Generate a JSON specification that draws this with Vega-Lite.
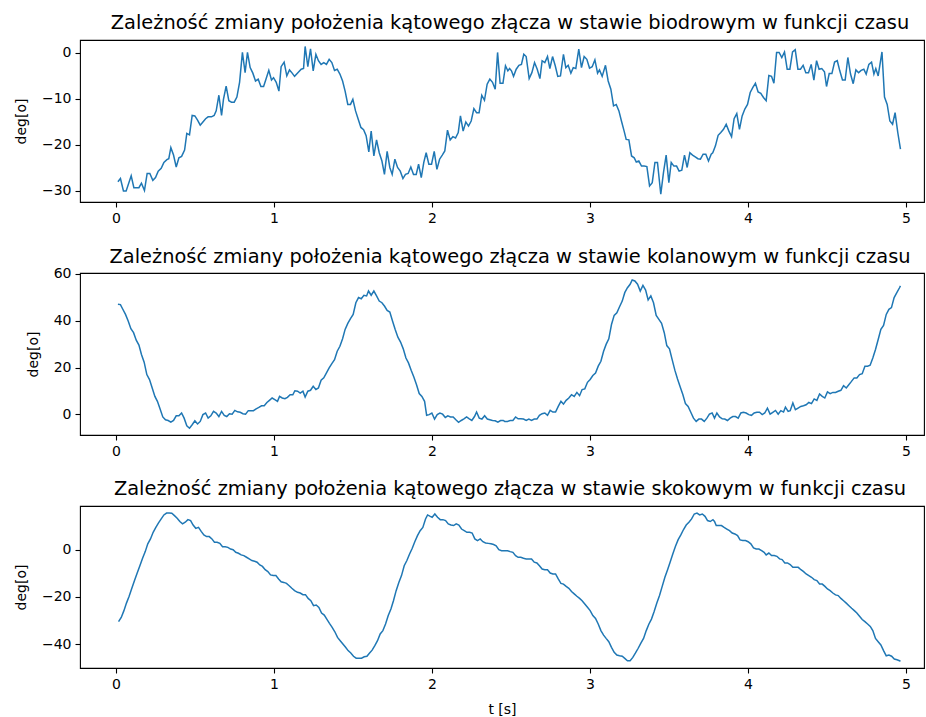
{
  "$schema": "https://vega.github.io/schema/vega-lite/v6.json",
  "background": "white",
  "padding": {"left": 13, "top": 12, "right": 1, "bottom": 5},
  "bounds": "flush",
  "spacing": 71,
  "datasets": {
    "hip": [
      {"t":0.012,"deg":-28.0},{"t":0.028,"deg":-27.3},{"t":0.047,"deg":-30.0},{"t":0.064,"deg":-30.0},{"t":0.096,"deg":-26.7},{"t":0.113,"deg":-29.3},{"t":0.145,"deg":-29.3},{"t":0.161,"deg":-28.3},{"t":0.180,"deg":-29.9},{"t":0.197,"deg":-26.2},{"t":0.214,"deg":-26.2},{"t":0.233,"deg":-27.7},{"t":0.250,"deg":-27.1},{"t":0.267,"deg":-25.7},{"t":0.286,"deg":-25.1},{"t":0.303,"deg":-23.8},{"t":0.322,"deg":-23.2},{"t":0.334,"deg":-23.0},{"t":0.347,"deg":-20.6},{"t":0.364,"deg":-22.2},{"t":0.381,"deg":-24.8},{"t":0.398,"deg":-22.8},{"t":0.415,"deg":-22.5},{"t":0.434,"deg":-21.1},{"t":0.448,"deg":-17.5},{"t":0.465,"deg":-17.8},{"t":0.482,"deg":-13.6},{"t":0.499,"deg":-13.7},{"t":0.516,"deg":-14.6},{"t":0.533,"deg":-15.7},{"t":0.550,"deg":-15.0},{"t":0.567,"deg":-14.3},{"t":0.583,"deg":-13.9},{"t":0.604,"deg":-13.9},{"t":0.621,"deg":-13.6},{"t":0.634,"deg":-12.6},{"t":0.651,"deg":-9.2},{"t":0.668,"deg":-13.6},{"t":0.680,"deg":-10.1},{"t":0.697,"deg":-7.2},{"t":0.714,"deg":-10.4},{"t":0.731,"deg":-10.7},{"t":0.748,"deg":-10.7},{"t":0.765,"deg":-9.6},{"t":0.782,"deg":-6.4},{"t":0.800,"deg":0.1},{"t":0.817,"deg":-4.3},{"t":0.832,"deg":0.1},{"t":0.849,"deg":-3.2},{"t":0.866,"deg":-4.4},{"t":0.883,"deg":-6.1},{"t":0.900,"deg":-5.7},{"t":0.917,"deg":-7.3},{"t":0.934,"deg":-7.3},{"t":0.950,"deg":-5.6},{"t":0.967,"deg":-3.8},{"t":0.984,"deg":-5.9},{"t":0.997,"deg":-5.4},{"t":1.014,"deg":-6.4},{"t":1.031,"deg":-8.3},{"t":1.045,"deg":-3.0},{"t":1.064,"deg":-2.0},{"t":1.081,"deg":-5.0},{"t":1.098,"deg":-3.7},{"t":1.115,"deg":-4.4},{"t":1.130,"deg":-5.1},
      {"t":1.151,"deg":-4.3},{"t":1.172,"deg":-3.55},{"t":1.187,"deg":-3.4},{"t":1.197,"deg":1.4},{"t":1.214,"deg":-3.0},{"t":1.231,"deg":0.9},{"t":1.248,"deg":-3.9},{"t":1.265,"deg":-0.3},{"t":1.281,"deg":-1.7},{"t":1.298,"deg":-2.5},{"t":1.315,"deg":-2.1},{"t":1.332,"deg":-2.5},{"t":1.349,"deg":-1.4},{"t":1.366,"deg":-2.1},{"t":1.383,"deg":-3.8},{"t":1.400,"deg":-3.55},{"t":1.417,"deg":-4.6},{"t":1.434,"deg":-6.1},{"t":1.450,"deg":-8.3},{"t":1.467,"deg":-11.2},{"t":1.484,"deg":-11.2},{"t":1.499,"deg":-10.1},{"t":1.516,"deg":-12.6},{"t":1.533,"deg":-14.4},{"t":1.550,"deg":-16.2},{"t":1.567,"deg":-16.7},{"t":1.583,"deg":-18.0},{"t":1.600,"deg":-21.5},{"t":1.615,"deg":-17.0},{"t":1.632,"deg":-22.4},{"t":1.649,"deg":-18.9},{"t":1.666,"deg":-21.7},{"t":1.683,"deg":-23.5},{"t":1.699,"deg":-26.4},{"t":1.716,"deg":-21.4},{"t":1.733,"deg":-24.9},{"t":1.748,"deg":-26.4},{"t":1.765,"deg":-23.1},{"t":1.782,"deg":-24.9},{"t":1.799,"deg":-25.7},{"t":1.816,"deg":-27.3},{"t":1.832,"deg":-26.4},{"t":1.849,"deg":-26.2},{"t":1.866,"deg":-24.8},{"t":1.883,"deg":-26.4},{"t":1.900,"deg":-26.4},{"t":1.915,"deg":-24.2},{"t":1.932,"deg":-27.1},{"t":1.948,"deg":-23.8},{"t":1.963,"deg":-21.7},{"t":1.980,"deg":-24.2},{"t":1.997,"deg":-24.2},{"t":2.014,"deg":-21.4},{"t":2.031,"deg":-25.3},{"t":2.048,"deg":-23.1},{"t":2.065,"deg":-22.2},{"t":2.081,"deg":-21.3},{"t":2.098,"deg":-16.8},{"t":2.115,"deg":-18.9},{"t":2.132,"deg":-18.2},{"t":2.149,"deg":-18.5},{"t":2.166,"deg":-17.3},{"t":2.180,"deg":-13.7},{"t":2.197,"deg":-17.0},{"t":2.214,"deg":-15.0},{"t":2.231,"deg":-15.9},{"t":2.248,"deg":-14.8},{"t":2.265,"deg":-12.1},{"t":2.282,"deg":-13.0},{"t":2.298,"deg":-13.0},{"t":2.315,"deg":-9.2},{"t":2.332,"deg":-10.3},{"t":2.349,"deg":-6.8},{"t":2.366,"deg":-5.7},{"t":2.383,"deg":-6.4},{"t":2.400,"deg":-7.9},{"t":2.415,"deg":0.1},{"t":2.431,"deg":-6.6},{"t":2.449,"deg":-6.6},
      {"t":2.465,"deg":-2.8},{"t":2.480,"deg":-3.9},{"t":2.491,"deg":-3.4},{"t":2.503,"deg":-3.9},{"t":2.516,"deg":-5.1},{"t":2.533,"deg":-3.55},{"t":2.550,"deg":-2.7},{"t":2.566,"deg":-2.5},{"t":2.581,"deg":-0.3},{"t":2.596,"deg":-0.8},{"t":2.615,"deg":-5.6},{"t":2.632,"deg":-4.3},{"t":2.649,"deg":-2.1},{"t":2.666,"deg":-3.55},{"t":2.683,"deg":-5.6},{"t":2.697,"deg":-1.7},{"t":2.714,"deg":-2.1},{"t":2.731,"deg":-0.8},{"t":2.746,"deg":-3.4},{"t":2.763,"deg":-0.8},{"t":2.780,"deg":-2.8},{"t":2.796,"deg":-5.1},{"t":2.813,"deg":-5.0},{"t":2.832,"deg":-0.3},{"t":2.847,"deg":-3.2},{"t":2.862,"deg":-2.7},{"t":2.879,"deg":-4.4},{"t":2.894,"deg":-3.2},{"t":2.910,"deg":-3.4},{"t":2.929,"deg":0.8},{"t":2.946,"deg":-3.2},{"t":2.963,"deg":-0.8},{"t":2.980,"deg":-1.4},{"t":2.997,"deg":-3.3},{"t":3.014,"deg":-3.0},{"t":3.031,"deg":-1.5},{"t":3.048,"deg":-4.4},{"t":3.060,"deg":-3.7},{"t":3.077,"deg":-5.1},{"t":3.098,"deg":-2.7},{"t":3.115,"deg":-6.1},{"t":3.132,"deg":-7.9},{"t":3.149,"deg":-11.5},{"t":3.166,"deg":-11.2},{"t":3.183,"deg":-12.6},{"t":3.199,"deg":-14.8},{"t":3.216,"deg":-17.0},{"t":3.229,"deg":-18.8},{"t":3.246,"deg":-18.9},{"t":3.263,"deg":-22.4},{"t":3.280,"deg":-22.8},{"t":3.293,"deg":-23.7},{"t":3.309,"deg":-23.5},{"t":3.326,"deg":-24.6},{"t":3.343,"deg":-24.6},{"t":3.360,"deg":-24.7},{"t":3.377,"deg":-28.9},{"t":3.394,"deg":-28.2},{"t":3.411,"deg":-23.8},{"t":3.427,"deg":-23.8},{"t":3.448,"deg":-30.7},{"t":3.465,"deg":-26.0},{"t":3.482,"deg":-22.2},{"t":3.499,"deg":-28.2},{"t":3.514,"deg":-23.8},{"t":3.531,"deg":-24.6},{"t":3.548,"deg":-24.6},{"t":3.564,"deg":-25.7},{"t":3.581,"deg":-25.5},{"t":3.598,"deg":-22.2},{"t":3.615,"deg":-24.9},{"t":3.632,"deg":-21.7},{"t":3.649,"deg":-22.2},{"t":3.666,"deg":-22.6},{"t":3.683,"deg":-23.0},{"t":3.699,"deg":-23.1},{"t":3.716,"deg":-22.0},{"t":3.733,"deg":-22.0},{"t":3.750,"deg":-23.5},{"t":3.767,"deg":-22.0},
      {"t":3.777,"deg":-21.7},{"t":3.794,"deg":-20.2},{"t":3.811,"deg":-17.9},{"t":3.828,"deg":-17.3},{"t":3.845,"deg":-16.6},{"t":3.862,"deg":-15.5},{"t":3.879,"deg":-17.0},{"t":3.896,"deg":-18.2},{"t":3.912,"deg":-14.3},{"t":3.929,"deg":-13.2},{"t":3.946,"deg":-16.6},{"t":3.963,"deg":-13.7},{"t":3.980,"deg":-12.2},{"t":3.997,"deg":-11.2},{"t":4.014,"deg":-8.6},{"t":4.031,"deg":-7.5},{"t":4.047,"deg":-6.6},{"t":4.064,"deg":-8.5},{"t":4.081,"deg":-8.8},{"t":4.098,"deg":-9.7},{"t":4.115,"deg":-10.4},{"t":4.132,"deg":-4.9},{"t":4.149,"deg":-5.1},{"t":4.164,"deg":-6.6},{"t":4.181,"deg":0.1},{"t":4.197,"deg":0.1},{"t":4.214,"deg":-1.0},{"t":4.231,"deg":0.2},{"t":4.248,"deg":-3.55},{"t":4.265,"deg":-3.55},{"t":4.282,"deg":0.2},{"t":4.299,"deg":0.7},{"t":4.316,"deg":-3.55},{"t":4.332,"deg":-3.55},{"t":4.349,"deg":-2.7},{"t":4.366,"deg":-4.3},{"t":4.383,"deg":-4.3},{"t":4.400,"deg":-2.5},{"t":4.417,"deg":-5.9},{"t":4.434,"deg":-1.7},{"t":4.450,"deg":-3.55},{"t":4.467,"deg":-3.4},{"t":4.484,"deg":-4.1},{"t":4.497,"deg":-7.3},{"t":4.514,"deg":-4.5},{"t":4.531,"deg":-4.5},{"t":4.548,"deg":-2.0},{"t":4.565,"deg":-1.7},{"t":4.581,"deg":-3.9},{"t":4.598,"deg":-5.9},{"t":4.615,"deg":-5.9},{"t":4.632,"deg":-1.0},{"t":4.649,"deg":-4.6},{"t":4.666,"deg":-6.7},{"t":4.683,"deg":-3.7},{"t":4.700,"deg":-4.3},{"t":4.716,"deg":-3.8},{"t":4.733,"deg":-3.55},{"t":4.748,"deg":-4.6},{"t":4.765,"deg":-2.5},{"t":4.782,"deg":-2.0},{"t":4.797,"deg":-4.6},{"t":4.809,"deg":-3.4},{"t":4.824,"deg":-5.0},{"t":4.848,"deg":0.2},{"t":4.864,"deg":-9.6},{"t":4.881,"deg":-11.2},{"t":4.898,"deg":-14.8},{"t":4.915,"deg":-15.5},{"t":4.931,"deg":-13.0},{"t":4.948,"deg":-17.3},{"t":4.965,"deg":-20.9}
    ],
    "knee": [
      {"t":0.012,"deg":47.0},{"t":0.028,"deg":46.9},{"t":0.043,"deg":44.9},{"t":0.060,"deg":42.7},{"t":0.077,"deg":39.9},{"t":0.094,"deg":36.6},{"t":0.111,"deg":34.9},{"t":0.128,"deg":31.7},{"t":0.145,"deg":29.6},{"t":0.161,"deg":25.6},{"t":0.178,"deg":22.3},{"t":0.195,"deg":17.0},{"t":0.212,"deg":14.9},{"t":0.229,"deg":11.3},{"t":0.246,"deg":7.7},{"t":0.262,"deg":5.6},{"t":0.279,"deg":2.3},{"t":0.296,"deg":-1.1},{"t":0.313,"deg":-2.3},{"t":0.330,"deg":-2.6},{"t":0.347,"deg":-3.3},{"t":0.364,"deg":-2.6},{"t":0.381,"deg":-0.6},{"t":0.398,"deg":-0.6},{"t":0.415,"deg":0.6},{"t":0.431,"deg":-1.6},{"t":0.448,"deg":-4.9},{"t":0.465,"deg":-5.9},{"t":0.482,"deg":-4.4},{"t":0.499,"deg":-2.7},{"t":0.516,"deg":-4.1},{"t":0.533,"deg":-3.0},{"t":0.550,"deg":-0.1},{"t":0.567,"deg":0.6},{"t":0.583,"deg":-1.6},{"t":0.600,"deg":-0.6},{"t":0.617,"deg":1.3},{"t":0.634,"deg":0.6},{"t":0.651,"deg":-0.9},{"t":0.668,"deg":1.3},{"t":0.685,"deg":-0.4},{"t":0.701,"deg":-0.9},{"t":0.718,"deg":0.3},{"t":0.735,"deg":0.1},{"t":0.752,"deg":1.7},{"t":0.769,"deg":1.1},{"t":0.786,"deg":0.9},{"t":0.803,"deg":0.3},{"t":0.820,"deg":0.1},{"t":0.837,"deg":1.6},{"t":0.853,"deg":1.6},{"t":0.870,"deg":1.6},{"t":0.887,"deg":2.4},{"t":0.904,"deg":3.0},{"t":0.921,"deg":3.7},{"t":0.938,"deg":3.7},{"t":0.955,"deg":5.1},{"t":0.971,"deg":6.0},{"t":0.988,"deg":7.0},{"t":1.005,"deg":6.3},{"t":1.022,"deg":5.6},{"t":1.035,"deg":7.7},{"t":1.052,"deg":7.0},{"t":1.069,"deg":6.7},{"t":1.085,"deg":7.3},{"t":1.102,"deg":8.4},{"t":1.119,"deg":8.4},
      {"t":1.132,"deg":10.1},{"t":1.149,"deg":9.9},{"t":1.166,"deg":9.1},{"t":1.183,"deg":9.9},{"t":1.197,"deg":7.4},{"t":1.214,"deg":9.9},{"t":1.231,"deg":10.3},{"t":1.248,"deg":12.0},{"t":1.265,"deg":10.6},{"t":1.281,"deg":11.3},{"t":1.298,"deg":14.6},{"t":1.315,"deg":15.6},{"t":1.332,"deg":17.7},{"t":1.349,"deg":19.9},{"t":1.366,"deg":21.7},{"t":1.383,"deg":23.4},{"t":1.400,"deg":27.0},{"t":1.417,"deg":29.1},{"t":1.434,"deg":32.3},{"t":1.450,"deg":36.3},{"t":1.467,"deg":38.9},{"t":1.484,"deg":40.9},{"t":1.501,"deg":42.7},{"t":1.518,"deg":47.7},{"t":1.535,"deg":49.9},{"t":1.552,"deg":49.4},{"t":1.569,"deg":50.9},{"t":1.586,"deg":50.6},{"t":1.598,"deg":52.7},{"t":1.615,"deg":50.9},{"t":1.632,"deg":52.7},{"t":1.649,"deg":50.6},{"t":1.666,"deg":48.4},{"t":1.683,"deg":47.7},{"t":1.699,"deg":46.3},{"t":1.716,"deg":44.4},{"t":1.733,"deg":43.7},{"t":1.750,"deg":39.9},{"t":1.767,"deg":36.3},{"t":1.784,"deg":33.0},{"t":1.801,"deg":30.9},{"t":1.818,"deg":28.0},{"t":1.835,"deg":24.1},{"t":1.851,"deg":22.0},{"t":1.868,"deg":18.9},{"t":1.885,"deg":16.0},{"t":1.902,"deg":12.7},{"t":1.919,"deg":8.9},{"t":1.936,"deg":7.7},{"t":1.953,"deg":5.6},{"t":1.966,"deg":-0.4},{"t":1.982,"deg":-0.1},{"t":1.999,"deg":0.6},{"t":2.016,"deg":-2.0},{"t":2.033,"deg":-0.1},{"t":2.050,"deg":0.6},{"t":2.067,"deg":0.1},{"t":2.084,"deg":-1.3},{"t":2.100,"deg":-0.6},{"t":2.117,"deg":-1.1},{"t":2.134,"deg":-1.1},{"t":2.151,"deg":-2.3},{"t":2.168,"deg":-3.4},{"t":2.185,"deg":-2.6},{"t":2.202,"deg":-1.9},{"t":2.219,"deg":-1.1},{"t":2.236,"deg":-1.9},{"t":2.252,"deg":-2.6},{"t":2.269,"deg":-0.9},{"t":2.282,"deg":1.0},{"t":2.299,"deg":-1.6},{"t":2.316,"deg":-2.0},{"t":2.333,"deg":-0.6},{"t":2.350,"deg":-2.0},{"t":2.366,"deg":-2.3},{"t":2.383,"deg":-2.6},{"t":2.400,"deg":-2.7},{"t":2.417,"deg":-3.3},{"t":2.434,"deg":-2.6},{"t":2.451,"deg":-2.6},{"t":2.460,"deg":-3.0},
      {"t":2.478,"deg":-3.0},{"t":2.495,"deg":-2.6},{"t":2.512,"deg":-2.6},{"t":2.529,"deg":-1.1},{"t":2.545,"deg":-1.9},{"t":2.562,"deg":-1.9},{"t":2.579,"deg":-2.0},{"t":2.596,"deg":-2.6},{"t":2.613,"deg":-2.0},{"t":2.630,"deg":-2.6},{"t":2.647,"deg":-2.0},{"t":2.664,"deg":-2.0},{"t":2.680,"deg":-0.4},{"t":2.697,"deg":0.3},{"t":2.714,"deg":0.6},{"t":2.731,"deg":-0.4},{"t":2.748,"deg":1.7},{"t":2.765,"deg":1.0},{"t":2.782,"deg":1.0},{"t":2.799,"deg":3.4},{"t":2.816,"deg":5.6},{"t":2.832,"deg":4.4},{"t":2.849,"deg":6.0},{"t":2.866,"deg":7.0},{"t":2.883,"deg":8.4},{"t":2.900,"deg":7.7},{"t":2.917,"deg":9.4},{"t":2.934,"deg":8.0},{"t":2.950,"deg":10.6},{"t":2.967,"deg":10.9},{"t":2.984,"deg":13.7},{"t":3.001,"deg":14.9},{"t":3.018,"deg":16.6},{"t":3.035,"deg":17.7},{"t":3.052,"deg":20.6},{"t":3.069,"deg":22.7},{"t":3.086,"deg":27.0},{"t":3.102,"deg":29.9},{"t":3.119,"deg":32.3},{"t":3.136,"deg":38.4},{"t":3.153,"deg":42.3},{"t":3.170,"deg":43.4},{"t":3.187,"deg":46.0},{"t":3.204,"deg":48.4},{"t":3.220,"deg":52.0},{"t":3.237,"deg":54.1},{"t":3.254,"deg":55.6},{"t":3.267,"deg":57.4},{"t":3.284,"deg":57.0},{"t":3.301,"deg":55.6},{"t":3.318,"deg":52.7},{"t":3.335,"deg":55.1},{"t":3.352,"deg":53.1},{"t":3.368,"deg":48.9},{"t":3.385,"deg":50.6},{"t":3.402,"deg":47.7},{"t":3.419,"deg":42.3},{"t":3.436,"deg":40.6},{"t":3.453,"deg":38.9},{"t":3.470,"deg":34.9},{"t":3.486,"deg":29.4},{"t":3.503,"deg":28.0},{"t":3.520,"deg":23.4},{"t":3.537,"deg":18.9},{"t":3.554,"deg":15.1},{"t":3.571,"deg":11.7},{"t":3.588,"deg":8.4},{"t":3.604,"deg":4.6},{"t":3.621,"deg":3.4},{"t":3.638,"deg":0.9},{"t":3.655,"deg":-1.6},{"t":3.672,"deg":-3.0},{"t":3.689,"deg":-2.0},{"t":3.706,"deg":-2.0},{"t":3.723,"deg":-3.0},{"t":3.740,"deg":-1.6},{"t":3.756,"deg":0.1},{"t":3.773,"deg":0.6},{"t":3.788,"deg":-1.6},
      {"t":3.803,"deg":0.6},{"t":3.820,"deg":-1.1},{"t":3.837,"deg":-1.9},{"t":3.853,"deg":-2.0},{"t":3.870,"deg":-2.6},{"t":3.887,"deg":-1.6},{"t":3.904,"deg":-0.9},{"t":3.921,"deg":-0.9},{"t":3.938,"deg":-1.6},{"t":3.955,"deg":0.6},{"t":3.971,"deg":0.9},{"t":3.988,"deg":0.6},{"t":4.005,"deg":-0.1},{"t":4.022,"deg":-0.4},{"t":4.039,"deg":0.6},{"t":4.056,"deg":0.9},{"t":4.073,"deg":0.9},{"t":4.090,"deg":-0.1},{"t":4.106,"deg":0.6},{"t":4.123,"deg":2.7},{"t":4.140,"deg":0.1},{"t":4.157,"deg":0.9},{"t":4.174,"deg":1.7},{"t":4.191,"deg":0.1},{"t":4.208,"deg":1.6},{"t":4.225,"deg":1.0},{"t":4.237,"deg":3.1},{"t":4.254,"deg":1.3},{"t":4.267,"deg":1.6},{"t":4.284,"deg":4.9},{"t":4.300,"deg":2.0},{"t":4.317,"deg":2.7},{"t":4.334,"deg":3.4},{"t":4.351,"deg":3.7},{"t":4.368,"deg":4.1},{"t":4.385,"deg":5.1},{"t":4.402,"deg":4.6},{"t":4.419,"deg":6.6},{"t":4.436,"deg":6.0},{"t":4.453,"deg":8.7},{"t":4.470,"deg":7.7},{"t":4.486,"deg":7.0},{"t":4.503,"deg":9.6},{"t":4.520,"deg":8.9},{"t":4.537,"deg":9.4},{"t":4.554,"deg":9.4},{"t":4.571,"deg":9.9},{"t":4.588,"deg":10.3},{"t":4.605,"deg":12.3},{"t":4.622,"deg":11.3},{"t":4.638,"deg":12.7},{"t":4.655,"deg":14.1},{"t":4.672,"deg":15.6},{"t":4.689,"deg":15.6},{"t":4.706,"deg":17.0},{"t":4.723,"deg":17.4},{"t":4.740,"deg":20.6},{"t":4.757,"deg":20.6},{"t":4.773,"deg":21.0},{"t":4.790,"deg":24.1},{"t":4.807,"deg":27.7},{"t":4.824,"deg":32.0},{"t":4.841,"deg":36.3},{"t":4.858,"deg":38.0},{"t":4.875,"deg":42.7},{"t":4.892,"deg":44.9},{"t":4.908,"deg":45.6},{"t":4.925,"deg":49.9},{"t":4.942,"deg":52.0},{"t":4.959,"deg":54.1},{"t":4.965,"deg":54.9}
    ],
    "ankle": [
      {"t":0.016,"deg":-30.5},{"t":0.033,"deg":-28.7},{"t":0.050,"deg":-25.8},{"t":0.066,"deg":-22.6},{"t":0.083,"deg":-19.7},{"t":0.100,"deg":-16.3},{"t":0.117,"deg":-13.0},{"t":0.134,"deg":-9.8},{"t":0.151,"deg":-6.7},{"t":0.168,"deg":-3.5},{"t":0.185,"deg":-0.7},{"t":0.201,"deg":2.6},{"t":0.218,"deg":4.7},{"t":0.235,"deg":7.5},{"t":0.252,"deg":9.6},{"t":0.269,"deg":11.5},{"t":0.286,"deg":13.2},{"t":0.303,"deg":14.9},{"t":0.320,"deg":15.7},{"t":0.337,"deg":15.7},{"t":0.353,"deg":15.6},{"t":0.370,"deg":14.6},{"t":0.387,"deg":13.5},{"t":0.404,"deg":12.1},{"t":0.421,"deg":11.1},{"t":0.438,"deg":11.8},{"t":0.455,"deg":12.9},{"t":0.472,"deg":12.5},{"t":0.488,"deg":10.6},{"t":0.505,"deg":9.2},{"t":0.522,"deg":9.6},{"t":0.539,"deg":7.9},{"t":0.556,"deg":6.4},{"t":0.573,"deg":5.7},{"t":0.590,"deg":5.7},{"t":0.607,"deg":4.7},{"t":0.623,"deg":3.3},{"t":0.640,"deg":3.3},{"t":0.657,"deg":2.8},{"t":0.674,"deg":1.4},{"t":0.691,"deg":1.4},{"t":0.708,"deg":1.1},{"t":0.725,"deg":0.4},{"t":0.741,"deg":0.1},{"t":0.758,"deg":-1.0},{"t":0.775,"deg":-1.4},{"t":0.792,"deg":-2.1},{"t":0.809,"deg":-2.4},{"t":0.826,"deg":-3.1},{"t":0.843,"deg":-3.8},{"t":0.860,"deg":-4.5},{"t":0.877,"deg":-4.8},{"t":0.893,"deg":-5.2},{"t":0.910,"deg":-6.4},{"t":0.927,"deg":-7.0},{"t":0.944,"deg":-8.4},{"t":0.961,"deg":-9.2},{"t":0.978,"deg":-10.6},{"t":0.995,"deg":-10.9},{"t":1.012,"deg":-10.9},{"t":1.029,"deg":-12.3},{"t":1.045,"deg":-13.5},{"t":1.062,"deg":-13.8},{"t":1.079,"deg":-14.2},{"t":1.096,"deg":-15.2},{"t":1.113,"deg":-16.3},{"t":1.130,"deg":-17.3},
      {"t":1.149,"deg":-18.0},{"t":1.166,"deg":-18.3},{"t":1.183,"deg":-19.0},{"t":1.199,"deg":-19.0},{"t":1.216,"deg":-20.6},{"t":1.233,"deg":-21.6},{"t":1.250,"deg":-23.7},{"t":1.267,"deg":-23.4},{"t":1.284,"deg":-24.4},{"t":1.301,"deg":-26.8},{"t":1.318,"deg":-27.7},{"t":1.334,"deg":-29.4},{"t":1.351,"deg":-31.2},{"t":1.368,"deg":-32.9},{"t":1.385,"deg":-34.8},{"t":1.402,"deg":-37.2},{"t":1.419,"deg":-38.6},{"t":1.436,"deg":-40.0},{"t":1.453,"deg":-41.4},{"t":1.469,"deg":-42.8},{"t":1.486,"deg":-43.8},{"t":1.503,"deg":-45.2},{"t":1.520,"deg":-46.0},{"t":1.537,"deg":-46.0},{"t":1.554,"deg":-46.0},{"t":1.571,"deg":-45.4},{"t":1.588,"deg":-45.2},{"t":1.605,"deg":-43.8},{"t":1.621,"deg":-42.6},{"t":1.638,"deg":-40.7},{"t":1.655,"deg":-38.6},{"t":1.672,"deg":-35.7},{"t":1.689,"deg":-34.3},{"t":1.706,"deg":-31.5},{"t":1.723,"deg":-27.9},{"t":1.740,"deg":-25.1},{"t":1.756,"deg":-21.6},{"t":1.773,"deg":-17.3},{"t":1.790,"deg":-13.8},{"t":1.807,"deg":-10.9},{"t":1.824,"deg":-6.7},{"t":1.841,"deg":-4.5},{"t":1.858,"deg":-1.7},{"t":1.875,"deg":0.7},{"t":1.891,"deg":3.5},{"t":1.908,"deg":6.1},{"t":1.925,"deg":8.2},{"t":1.942,"deg":9.6},{"t":1.959,"deg":13.2},{"t":1.972,"deg":14.9},{"t":1.989,"deg":14.3},{"t":2.001,"deg":13.9},{"t":2.018,"deg":15.3},{"t":2.035,"deg":13.9},{"t":2.052,"deg":12.9},{"t":2.069,"deg":12.9},{"t":2.086,"deg":12.5},{"t":2.103,"deg":11.1},{"t":2.120,"deg":10.6},{"t":2.137,"deg":10.4},{"t":2.153,"deg":11.1},{"t":2.170,"deg":10.6},{"t":2.187,"deg":8.9},{"t":2.204,"deg":8.2},{"t":2.221,"deg":7.5},{"t":2.238,"deg":7.5},{"t":2.254,"deg":7.2},{"t":2.271,"deg":4.7},{"t":2.288,"deg":4.0},{"t":2.305,"deg":4.7},{"t":2.322,"deg":3.5},{"t":2.339,"deg":3.0},{"t":2.356,"deg":2.8},{"t":2.373,"deg":2.6},{"t":2.390,"deg":2.3},{"t":2.406,"deg":1.8},{"t":2.423,"deg":0.1},{"t":2.440,"deg":-0.3},{"t":2.459,"deg":-0.3},
      {"t":2.478,"deg":-0.3},{"t":2.495,"deg":-0.7},{"t":2.512,"deg":-1.0},{"t":2.529,"deg":-2.4},{"t":2.545,"deg":-3.1},{"t":2.562,"deg":-3.1},{"t":2.579,"deg":-3.5},{"t":2.596,"deg":-3.8},{"t":2.613,"deg":-3.8},{"t":2.630,"deg":-3.8},{"t":2.647,"deg":-5.2},{"t":2.664,"deg":-5.5},{"t":2.680,"deg":-6.7},{"t":2.697,"deg":-8.1},{"t":2.714,"deg":-8.4},{"t":2.731,"deg":-8.4},{"t":2.748,"deg":-9.8},{"t":2.765,"deg":-10.2},{"t":2.782,"deg":-10.2},{"t":2.799,"deg":-12.3},{"t":2.816,"deg":-14.2},{"t":2.832,"deg":-14.5},{"t":2.849,"deg":-15.5},{"t":2.866,"deg":-16.3},{"t":2.883,"deg":-17.7},{"t":2.900,"deg":-18.7},{"t":2.917,"deg":-19.7},{"t":2.934,"deg":-20.6},{"t":2.950,"deg":-21.6},{"t":2.967,"deg":-23.0},{"t":2.984,"deg":-24.4},{"t":3.001,"deg":-25.8},{"t":3.018,"deg":-27.9},{"t":3.035,"deg":-29.1},{"t":3.052,"deg":-31.5},{"t":3.069,"deg":-34.3},{"t":3.086,"deg":-36.2},{"t":3.102,"deg":-37.6},{"t":3.119,"deg":-39.0},{"t":3.136,"deg":-41.4},{"t":3.153,"deg":-43.5},{"t":3.170,"deg":-44.7},{"t":3.187,"deg":-45.0},{"t":3.204,"deg":-45.2},{"t":3.220,"deg":-46.1},{"t":3.237,"deg":-47.1},{"t":3.254,"deg":-47.1},{"t":3.271,"deg":-45.7},{"t":3.288,"deg":-43.8},{"t":3.305,"deg":-41.8},{"t":3.322,"deg":-39.6},{"t":3.339,"deg":-37.6},{"t":3.356,"deg":-34.3},{"t":3.373,"deg":-31.5},{"t":3.389,"deg":-29.4},{"t":3.406,"deg":-26.2},{"t":3.423,"deg":-22.6},{"t":3.440,"deg":-19.4},{"t":3.457,"deg":-15.5},{"t":3.474,"deg":-11.6},{"t":3.491,"deg":-8.4},{"t":3.507,"deg":-5.2},{"t":3.524,"deg":-1.7},{"t":3.541,"deg":1.6},{"t":3.558,"deg":4.4},{"t":3.575,"deg":6.4},{"t":3.592,"deg":8.7},{"t":3.609,"deg":10.6},{"t":3.626,"deg":11.8},{"t":3.643,"deg":13.2},{"t":3.660,"deg":15.3},{"t":3.677,"deg":15.7},{"t":3.694,"deg":14.9},{"t":3.711,"deg":15.3},{"t":3.728,"deg":14.3},{"t":3.744,"deg":12.5},{"t":3.761,"deg":12.1},{"t":3.778,"deg":12.9},{"t":3.788,"deg":12.1},
      {"t":3.799,"deg":10.4},{"t":3.815,"deg":10.4},{"t":3.832,"deg":10.4},{"t":3.849,"deg":9.6},{"t":3.866,"deg":8.9},{"t":3.883,"deg":8.2},{"t":3.900,"deg":7.2},{"t":3.917,"deg":6.8},{"t":3.934,"deg":6.1},{"t":3.950,"deg":4.3},{"t":3.967,"deg":4.0},{"t":3.984,"deg":4.0},{"t":4.001,"deg":3.5},{"t":4.018,"deg":2.6},{"t":4.035,"deg":0.9},{"t":4.052,"deg":0.4},{"t":4.069,"deg":0.4},{"t":4.086,"deg":-0.3},{"t":4.102,"deg":-1.0},{"t":4.115,"deg":-2.1},{"t":4.132,"deg":-1.3},{"t":4.149,"deg":-2.4},{"t":4.166,"deg":-2.4},{"t":4.183,"deg":-2.7},{"t":4.200,"deg":-3.8},{"t":4.216,"deg":-4.1},{"t":4.233,"deg":-5.5},{"t":4.250,"deg":-5.5},{"t":4.267,"deg":-6.2},{"t":4.284,"deg":-7.4},{"t":4.301,"deg":-7.4},{"t":4.318,"deg":-7.4},{"t":4.335,"deg":-8.4},{"t":4.352,"deg":-9.2},{"t":4.368,"deg":-10.2},{"t":4.385,"deg":-10.9},{"t":4.402,"deg":-11.6},{"t":4.419,"deg":-12.6},{"t":4.436,"deg":-13.0},{"t":4.453,"deg":-14.5},{"t":4.470,"deg":-14.5},{"t":4.487,"deg":-15.5},{"t":4.503,"deg":-16.6},{"t":4.520,"deg":-17.3},{"t":4.537,"deg":-18.3},{"t":4.554,"deg":-19.1},{"t":4.571,"deg":-19.4},{"t":4.588,"deg":-20.6},{"t":4.605,"deg":-21.6},{"t":4.622,"deg":-22.6},{"t":4.639,"deg":-23.7},{"t":4.656,"deg":-24.8},{"t":4.673,"deg":-25.8},{"t":4.689,"deg":-26.8},{"t":4.706,"deg":-28.2},{"t":4.723,"deg":-29.6},{"t":4.740,"deg":-30.5},{"t":4.757,"deg":-31.5},{"t":4.774,"deg":-32.5},{"t":4.790,"deg":-34.3},{"t":4.807,"deg":-37.6},{"t":4.824,"deg":-39.0},{"t":4.841,"deg":-40.4},{"t":4.858,"deg":-42.8},{"t":4.875,"deg":-45.0},{"t":4.892,"deg":-44.7},{"t":4.909,"deg":-45.2},{"t":4.926,"deg":-46.4},{"t":4.943,"deg":-46.7},{"t":4.959,"deg":-47.1},{"t":4.965,"deg":-47.4}
    ]
  },
  "vconcat": [
    {
      "width": 844,
      "height": 162,
      "data": {"name": "hip"},
      "title": {"text": "Zależność zmiany położenia kątowego złącza w stawie biodrowym w funkcji czasu", "offset": 7},
      "mark": {"type": "line", "color": "#1f77b4", "strokeWidth": 1.5, "clip": true},
      "encoding": {
        "x": {"field": "t", "type": "quantitative", "scale": {"domain": [-0.228, 5.114], "nice": false, "zero": false}, "axis": {"values": [0, 1, 2, 3, 4, 5], "format": "d", "title": null}},
        "y": {"field": "deg", "type": "quantitative", "scale": {"domain": [-32.4, 2.8], "nice": false, "zero": false}, "axis": {"values": [-30, -20, -10, 0], "format": "d", "title": "deg[o]"}}
      }
    },
    {
      "width": 844,
      "height": 162,
      "data": {"name": "knee"},
      "title": {"text": "Zależność zmiany położenia kątowego złącza w stawie kolanowym w funkcji czasu", "offset": 0},
      "mark": {"type": "line", "color": "#1f77b4", "strokeWidth": 1.5, "clip": true},
      "encoding": {
        "x": {"field": "t", "type": "quantitative", "scale": {"domain": [-0.228, 5.114], "nice": false, "zero": false}, "axis": {"values": [0, 1, 2, 3, 4, 5], "format": "d", "title": null}},
        "y": {"field": "deg", "type": "quantitative", "scale": {"domain": [-8.8, 60.4], "nice": false, "zero": false}, "axis": {"values": [0, 20, 40, 60], "format": "d", "title": "deg[o]"}}
      }
    },
    {
      "width": 844,
      "height": 162,
      "data": {"name": "ankle"},
      "title": {"text": "Zależność zmiany położenia kątowego złącza w stawie skokowym w funkcji czasu", "offset": 7},
      "mark": {"type": "line", "color": "#1f77b4", "strokeWidth": 1.5, "clip": true},
      "encoding": {
        "x": {"field": "t", "type": "quantitative", "scale": {"domain": [-0.228, 5.114], "nice": false, "zero": false}, "axis": {"values": [0, 1, 2, 3, 4, 5], "format": "d", "title": "t [s]"}},
        "y": {"field": "deg", "type": "quantitative", "scale": {"domain": [-50.2, 18.7], "nice": false, "zero": false}, "axis": {"values": [-40, -20, 0], "format": "d", "title": "deg[o]"}}
      }
    }
  ],
  "config": {
    "font": "DejaVu Sans",
    "view": {"stroke": "black", "strokeWidth": 1.1},
    "axis": {
      "domain": false,
      "grid": false,
      "ticks": true,
      "tickColor": "black",
      "tickSize": 5,
      "tickWidth": 1.1,
      "labelFont": "DejaVu Sans",
      "labelFontSize": 14,
      "labelColor": "black",
      "labelPadding": 4,
      "titleFont": "DejaVu Sans",
      "titleFontSize": 14,
      "titleFontWeight": "normal",
      "titleColor": "black"
    },
    "axisX": {"titlePadding": 11},
    "axisY": {"titlePadding": 13},
    "title": {
      "font": "DejaVu Sans",
      "fontSize": 19.4,
      "fontWeight": "normal",
      "color": "black",
      "anchor": "middle",
      "frame": "group",
      "baseline": "alphabetic",
      "dx": 8
    }
  }
}
